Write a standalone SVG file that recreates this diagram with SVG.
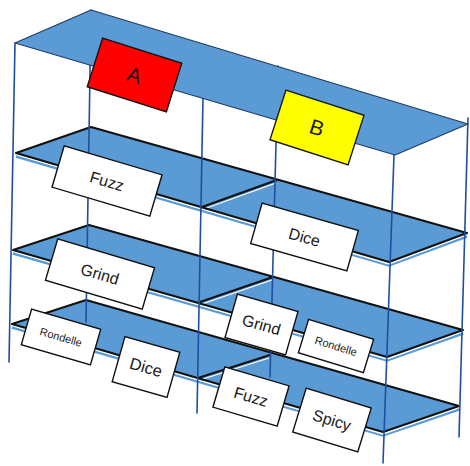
<svg xmlns="http://www.w3.org/2000/svg" width="470" height="466" viewBox="0 0 470 466">
  <style>
    .deck { fill: #5b9bd5; }
    .edge { fill: none; stroke: #111; stroke-width: 2.2; stroke-linejoin: round; }
    .lip { fill: none; stroke: #5b9bd5; stroke-width: 2.6; }
    .shine { fill: none; stroke: #ffffff; stroke-width: 1.3; }
    .roof { fill: #5b9bd5; stroke: #1f3b66; stroke-width: 1.2; stroke-linejoin: round; }
    .post { stroke: #1f4fa0; stroke-width: 1.6; stroke-linecap: round; }
    .card { fill: #ffffff; stroke: #111; stroke-width: 1.4; }
    .label { font-family: "Liberation Sans", Arial, sans-serif; fill: #1a1a1a; text-anchor: middle; }
  </style>
  <rect width="470" height="466" fill="#ffffff"/>

  <!-- shelf decks, each split into two bays -->
  <g id="shelves">
    <g id="shelf-1">
      <polygon class="deck" points="16,153 91,127 467,233 389,262"/>
      <polyline class="lip" points="16,156.5 389,265.5 467,236.5"/>
      <polyline class="lip" points="202,210.5 277,183.5"/>
      <polyline class="shine" points="18,155.2 389,264 465,235.5"/>
      <polyline class="shine" points="204,209 276,183"/>
      <polygon class="edge" points="16,153 91,127 467,233 389,262"/>
      <line class="edge" x1="202" y1="207" x2="277" y2="180"/>
    </g>
    <g id="shelf-2">
      <polygon class="deck" points="13,250 89,225 463,330 387,357"/>
      <polyline class="lip" points="13,253.5 387,360.5 463,333.5"/>
      <polyline class="lip" points="200,305.5 273,280.5"/>
      <polyline class="shine" points="15,252.2 387,359 461,332.5"/>
      <polyline class="shine" points="202,304 272,280"/>
      <polygon class="edge" points="13,250 89,225 463,330 387,357"/>
      <line class="edge" x1="200" y1="302" x2="273" y2="277"/>
    </g>
    <g id="shelf-3">
      <polygon class="deck" points="12,324 86,300 459,406 383,432"/>
      <polyline class="lip" points="12,327.5 383,435.5 459,409.5"/>
      <polyline class="lip" points="198,381.5 270,358.5"/>
      <polyline class="shine" points="14,326.2 383,434 457,408.5"/>
      <polyline class="shine" points="200,380 269,358"/>
      <polygon class="edge" points="12,324 86,300 459,406 383,432"/>
      <line class="edge" x1="198" y1="378" x2="270" y2="355"/>
    </g>
  </g>

  <!-- uprights -->
  <g id="posts">
    <line class="post" x1="15" y1="43" x2="9" y2="362"/>
    <line class="post" x1="91" y1="10" x2="86" y2="322"/>
    <line class="post" x1="203" y1="98" x2="197" y2="413"/>
    <line class="post" x1="278" y1="66" x2="270" y2="377"/>
    <line class="post" x1="394" y1="155" x2="383" y2="463"/>
    <line class="post" x1="468" y1="118" x2="459" y2="437"/>
  </g>

  <!-- top panel -->
  <polygon id="roof" class="roof" points="15,43 91,10 468,124 395,155"/>

  <!-- bin labels -->
  <g id="label-a" transform="translate(134.5,75) rotate(17.6)">
    <rect x="-41.5" y="-25.5" width="83" height="51" fill="#ff0000" stroke="#111" stroke-width="1.4"/>
    <text class="label" y="7.5" font-size="21">A</text>
  </g>
  <g id="label-b" transform="translate(317,127.5) rotate(17.8)">
    <rect x="-41" y="-26" width="82" height="52" fill="#ffff00" stroke="#1a1a1a" stroke-width="1.4"/>
    <text class="label" y="7.5" font-size="21">B</text>
  </g>
  <g id="fuzz-left" transform="translate(107,181) rotate(16.5)">
    <rect class="card" x="-51" y="-21.5" width="102" height="43"/>
    <text class="label" y="5.8" font-size="16">Fuzz</text>
  </g>
  <g id="grind-left" transform="translate(100,274) rotate(16.6)">
    <rect class="card" x="-50.5" y="-21.5" width="101" height="43"/>
    <text class="label" y="5.8" font-size="16">Grind</text>
  </g>
  <g id="dice-right" transform="translate(304.5,237) rotate(15.8)">
    <rect class="card" x="-50" y="-21" width="100" height="42"/>
    <text class="label" y="5.8" font-size="16">Dice</text>
  </g>
  <g id="rondelle-left" transform="translate(61,337) rotate(16.2)">
    <rect class="card" x="-36" y="-18.5" width="72" height="37"/>
    <text class="label" y="4" font-size="11">Rondelle</text>
  </g>
  <g id="dice-left" transform="translate(146,367) rotate(15.8)">
    <rect class="card" x="-28.5" y="-23.5" width="57" height="47"/>
    <text class="label" y="6" font-size="16.5">Dice</text>
  </g>
  <g id="grind-right" transform="translate(261.5,324.5) rotate(16)">
    <rect class="card" x="-31.5" y="-22.5" width="63" height="45"/>
    <text class="label" y="5.8" font-size="16">Grind</text>
  </g>
  <g id="rondelle-right" transform="translate(336,346) rotate(17)">
    <rect class="card" x="-34" y="-17.5" width="68" height="35"/>
    <text class="label" y="4" font-size="11">Rondelle</text>
  </g>
  <g id="fuzz-right" transform="translate(251,396.5) rotate(16.5)">
    <rect class="card" x="-33.5" y="-21" width="67" height="42"/>
    <text class="label" y="5.8" font-size="16">Fuzz</text>
  </g>
  <g id="spicy" transform="translate(332,420) rotate(17)">
    <rect class="card" x="-34" y="-23" width="68" height="46"/>
    <text class="label" y="5.8" font-size="16">Spicy</text>
  </g>
</svg>
